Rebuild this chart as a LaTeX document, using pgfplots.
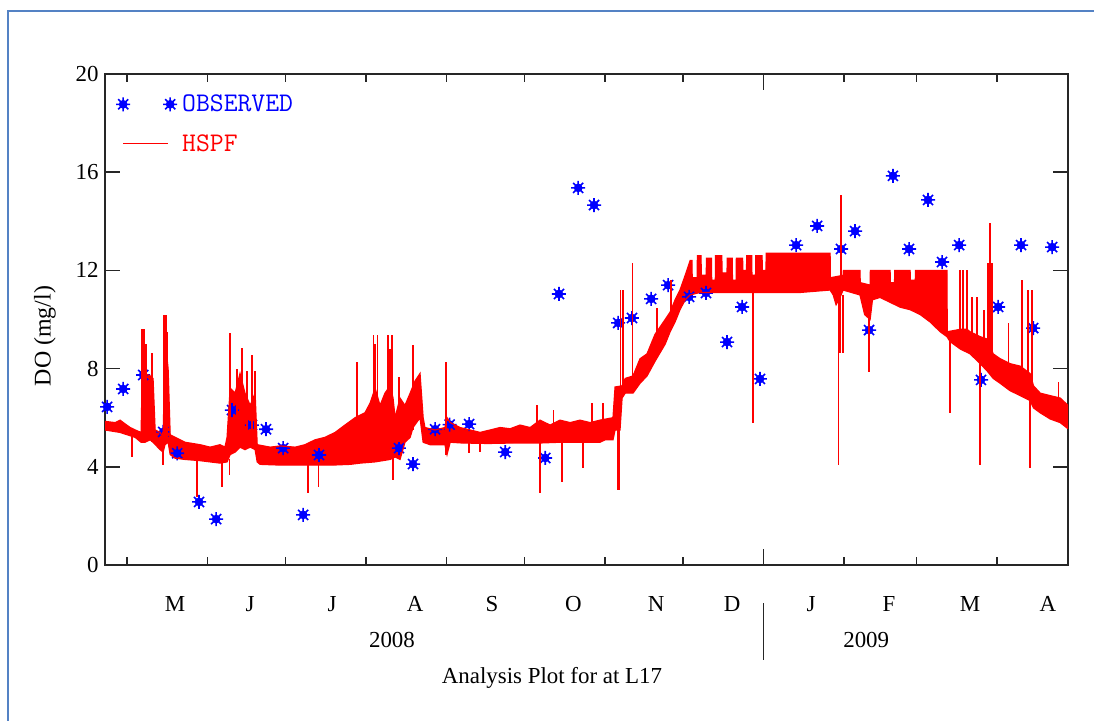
\documentclass[border=0pt]{standalone}
\usepackage{fontspec}
\setmainfont{Liberation Serif}
\usepackage{pgfplots}
\pgfplotsset{compat=1.18}
\usepgfplotslibrary{fillbetween}
\definecolor{frameblue}{RGB}{84,130,196}
\definecolor{hspfred}{RGB}{255,0,0}
\definecolor{obsblue}{RGB}{0,0,255}
\newcommand\tickfont{\fontsize{23}{26}\selectfont}

% 8-ray asterisk with a filled core, like the bitmap star of the original
\pgfdeclareplotmark{obsstar}{%
  \pgfpathcircle{\pgfpointorigin}{0.5\pgfplotmarksize}%
  \pgfusepathqfillstroke
  \pgfpathmoveto{\pgfqpoint{-\pgfplotmarksize}{0pt}}\pgfpathlineto{\pgfqpoint{\pgfplotmarksize}{0pt}}%
  \pgfpathmoveto{\pgfqpoint{0pt}{-\pgfplotmarksize}}\pgfpathlineto{\pgfqpoint{0pt}{\pgfplotmarksize}}%
  \pgfpathmoveto{\pgfqpoint{-0.72\pgfplotmarksize}{-0.72\pgfplotmarksize}}\pgfpathlineto{\pgfqpoint{0.72\pgfplotmarksize}{0.72\pgfplotmarksize}}%
  \pgfpathmoveto{\pgfqpoint{-0.72\pgfplotmarksize}{0.72\pgfplotmarksize}}\pgfpathlineto{\pgfqpoint{0.72\pgfplotmarksize}{-0.72\pgfplotmarksize}}%
  \pgfusepathqstroke
}

\pgfplotsset{
  obs legend/.style={legend image code/.code={\path[draw=none,fill=none] (-8bp,-8bp) rectangle (50bp,8bp);
    \draw[##1] plot[only marks] coordinates {(0bp,0bp) (47bp,0bp)};}},
  hspf legend/.style={legend image code/.code={\path[draw=none,fill=none] (-8bp,-8bp) rectangle (50bp,8bp);
    \draw[##1] (0bp,0bp) -- (45bp,0bp);}},
}

\begin{document}
\begin{tikzpicture}
\begin{axis}[
  scale only axis, width=963bp, height=491bp,
  xmin=112.5, xmax=483.3, ymin=0, ymax=20,
  clip mode=individual,
  axis line style={line width=1.5bp, black!85},
  every tick/.style={black!85, line width=1.5bp},
  tick align=inside,
  major tick length=15bp, minor tick length=8bp,
  ytick={0,4,8,12,16,20},
  xtick={139.5,168.4,199.9,231.9,261.5,292.9,324.7,354.0,384.4,414.4,445.6,475.6},
  xticklabels={M,J,J,A,S,O,N,D,J,F,M,A},
  major x tick style={draw=none},
  minor xtick={121,152,182,213,244,274,305,335,366,397,425,456},
  xticklabel style={font=\tickfont, anchor=base, yshift=-46bp},
  yticklabel style={font=\tickfont, xshift=-3bp},
  /pgf/number format/assume math mode=true,
  unbounded coords=jump,
  legend style={draw=none, fill=none, at={(rel axis cs:0,1)}, anchor=north west,
    xshift=10bp, yshift=-19bp, font=\ttfamily\fontsize{27}{29}\selectfont,
    row sep=17bp, inner sep=0pt,
    /tikz/every odd column/.append style={column sep=3bp}},
  legend cell align=left,
]
% observed DO (mg/l), x = day of year counted from 1 Jan 2008
\addplot[only marks, obsblue, mark=obsstar, mark size=7bp, line width=1.6bp, obs legend]
  coordinates {
  (113.3,6.44) (119.5,7.17) (127.2,7.74) (134.9,5.42) (140.3,4.55)
  (148.7,2.57) (155.3,1.87) (161.4,6.31) (169.1,5.70) (174.5,5.53)
  (181.1,4.76) (188.8,2.04) (194.9,4.48) (225.7,4.76) (231.1,4.11)
  (239.6,5.53) (245.2,5.72) (252.7,5.74) (266.6,4.60) (282.0,4.36)
  (287.3,11.04) (294.7,15.36) (300.8,14.66) (310.1,9.86) (315.4,10.06)
  (322.8,10.84) (329.3,11.40) (337.4,10.92) (343.9,11.08) (352.0,9.08)
  (357.8,10.51) (364.7,7.58) (378.6,13.03) (386.7,13.81) (395.9,12.87)
  (401.3,13.60) (406.7,9.57) (415.9,15.85) (422.1,12.87) (429.4,14.87)
  (434.8,12.34) (441.4,13.03) (449.8,7.54) (456.4,10.51) (465.2,13.03)
  (469.9,9.65) (477.2,12.95)
  };
\addlegendentry{\textcolor{obsblue}{OBSERVED}}

% HSPF simulated DO: lower and upper edge of the daily band
\addplot[hspfred, line width=1.2bp, name path=lo, forget plot] coordinates {
  (112.5,5.5) (118.3,5.4) (124.1,5.2) (126.4,5.0) (127.9,5.0) (129.9,5.1)
  (131.0,5.0) (133.7,4.7) (134.9,4.6) (135.6,4.9) (136.8,5.0) (137.6,4.5)
  (139.5,4.35) (143.3,4.3) (149.1,4.25) (153.0,4.2) (156.8,4.15) (159.5,4.2)
  (160.7,4.5) (162.6,4.6) (164.5,4.8) (166.4,4.7) (168.4,4.8) (170.3,4.7)
  (171.1,4.2) (172.2,4.1) (180,4.07) (190,4.07) (200,4.07) (206.9,4.1)
  (210.7,4.15) (216.5,4.2) (222.3,4.3) (224.2,4.4) (226.1,4.3) (228.0,5.0)
  (230.0,5.2) (231.1,5.6) (233.8,6.0) (235.0,5.0) (237.7,4.9) (243.4,4.9)
  (244.2,4.5) (245.4,5.0) (250,4.97) (260,4.95) (270,4.97) (280,4.97)
  (287.7,5.0) (295,5.0) (303.1,5.0) (305.1,5.1) (308.1,5.1) (308.9,5.5)
  (310.8,5.5) (311.6,6.8) (312.8,7.0) (315.8,7.0) (318.5,7.4) (321.2,7.7)
  (324.3,8.3) (328.2,9.0) (330.1,9.5) (332.0,9.9) (333.9,10.4) (335.9,10.8)
  (337.8,11.0) (341.6,11.1) (360,11.1) (380,11.1) (391.7,11.2) (392.9,11.0)
  (394.0,10.6) (395.5,10.9) (396.7,11.2) (403.2,11.0) (405,10.2) (407.1,10.0)
  (408,10.8) (410.9,10.9) (414.8,10.7) (418.7,10.5) (422.5,10.4) (426.4,10.2)
  (430.2,9.9) (434.1,9.5) (436.7,9.3) (437.9,9.1) (441.8,8.8) (445.6,8.6)
  (449.5,8.2) (452.2,7.9) (454.5,7.6) (457.2,7.4) (461.0,7.1) (464.9,6.9)
  (468.7,6.7) (470,6.4) (472.6,6.2) (476.4,5.95) (480.3,5.8) (483.3,5.55)
  };
\addplot[hspfred, line width=1.2bp, name path=hi, forget plot] coordinates {
  (112.5,5.85) (116.4,5.8) (118.3,5.9) (120.2,5.75) (122.2,5.6) (124.1,5.5)
  (126.4,5.4) (126.8,7.5) (127.9,7.8) (129.9,7.7) (131.0,7.6) (131.8,5.5)
  (133.7,5.4) (134.9,5.2) (135.6,9.2) (136.8,8.0) (137.6,5.3) (139.5,5.2)
  (143.3,5.0) (149.1,4.9) (153.0,4.8) (156.8,4.9) (158.7,4.8) (159.5,5.2)
  (160.7,7.2) (162.6,7.0) (164.5,7.8) (166.4,7.0) (168.4,6.5) (170.3,7.0)
  (171.1,4.9) (176.1,4.8) (180,4.85) (185.7,4.8) (189.5,4.9) (193.4,5.1)
  (197.2,5.2) (201.1,5.4) (204.9,5.7) (208.8,6.0) (212.6,6.2) (214.6,6.6)
  (216.5,7.2) (218.4,6.5) (220.3,7.0) (222.3,7.3) (223.4,6.8) (224.2,6.0)
  (226.1,6.8) (228,6.5) (230.0,7.0) (231.9,7.5) (233.8,7.8) (235.0,6.0)
  (235.7,5.6) (239.6,5.5) (243.4,5.6) (244.2,6.0) (245.4,5.8) (249.2,5.6)
  (253.1,5.5) (256.9,5.4) (260.8,5.5) (264.6,5.6) (268.5,5.55) (272.3,5.7)
  (276.2,5.6) (280.0,5.9) (283.9,5.7) (287.7,5.9) (291.6,5.8) (295.4,5.9)
  (299.3,5.8) (303.1,5.9) (308.1,6.0) (308.9,7.25) (311.6,7.3) (312.8,7.6)
  (315.8,7.7) (318.5,8.4) (321.2,8.6) (324.3,9.4) (328.2,10.0) (330.1,10.3)
  (332.0,10.8) (333.9,11.2) (335.9,11.8) (337.8,12.4) (338.5,12.4) (338.6,11.7)
  (340.5,11.7) (340.6,12.6) (342,12.6) (342.1,11.8) (344,11.8) (344.1,12.5)
  (346,12.5) (346.1,11.6) (347.5,11.6) (347.6,12.6) (350,12.6) (350.1,11.9)
  (352,11.9) (352.1,12.5) (354,12.5) (354.1,11.6) (355.5,11.6) (355.6,12.5)
  (358,12.5) (358.1,12.0) (359.5,12.0) (359.6,12.6) (361.5,12.6) (361.6,11.8)
  (363,11.8) (363.1,12.6) (365.5,12.6) (365.6,12.0) (367,12.0) (367.1,12.7)
  (391.7,12.7) (391.8,11.7) (396.7,11.8) (396.8,12.0) (403.2,12.0) (403.3,11.5)
  (407.1,11.4) (407.2,12.0) (414.8,12.0) (414.9,11.5) (416.5,11.5) (416.6,12.0)
  (422.5,12.0) (422.6,11.6) (424.5,11.6) (424.6,12.0) (436.7,12.0) (436.8,9.5)
  (441.8,9.6) (444.4,9.6) (445.6,9.5) (449.5,9.3) (452.2,9.2) (454.5,8.6)
  (457.2,8.4) (461.0,8.2) (464.9,8.1) (468.7,7.8) (470,7.3) (472.6,7.0)
  (476.4,6.9) (480.3,6.8) (483.3,6.5)
  };
\addplot[hspfred, forget plot] fill between[of=lo and hi];

% HSPF short-lived excursions
\addplot[hspfred, line width=1.8bp, hspf legend]
  coordinates {
  (122.9,5.5) (122.9,4.41) (122.9,nan)
  (126.7,5.0) (126.7,9.6) (126.7,nan)
  (127.5,5.0) (127.5,9.6) (127.5,nan)
  (128.3,5.0) (128.3,9.0) (128.3,nan)
  (130.6,5.0) (130.6,8.63) (130.6,nan)
  (134.9,5.4) (134.9,4.07) (134.9,nan)
  (135.2,5.0) (135.2,10.18) (135.2,nan)
  (135.9,5.0) (135.9,10.18) (135.9,nan)
  (136.5,5.0) (136.5,9.5) (136.5,nan)
  (147.9,4.3) (147.9,2.77) (147.9,nan)
  (157.5,4.2) (157.5,3.18) (157.5,nan)
  (160.4,4.3) (160.4,3.67) (160.4,nan)
  (160.7,5.0) (160.7,9.45) (160.7,nan)
  (163.2,5.0) (163.2,8.0) (163.2,nan)
  (165.2,5.0) (165.2,8.84) (165.2,nan)
  (167.1,5.0) (167.1,7.9) (167.1,nan)
  (169.0,5.0) (169.0,8.55) (169.0,nan)
  (170.3,5.0) (170.3,7.9) (170.3,nan)
  (190.8,4.2) (190.8,2.93) (190.8,nan)
  (194.7,4.2) (194.7,3.18) (194.7,nan)
  (209.4,5.0) (209.4,8.27) (209.4,nan)
  (215.9,5.0) (215.9,9.37) (215.9,nan)
  (216.6,5.0) (216.6,9.0) (216.6,nan)
  (217.4,5.0) (217.4,9.37) (217.4,nan)
  (221.6,5.0) (221.6,9.37) (221.6,nan)
  (222.3,5.0) (222.3,8.8) (222.3,nan)
  (223.0,5.0) (223.0,9.37) (223.0,nan)
  (223.5,4.5) (223.5,3.46) (223.5,nan)
  (225.8,5.0) (225.8,7.66) (225.8,nan)
  (231.2,5.5) (231.2,8.96) (231.2,nan)
  (243.8,4.48) (243.8,8.27) (243.8,nan)
  (252.8,5.0) (252.8,4.56) (252.8,nan)
  (256.9,5.0) (256.9,4.6) (256.9,nan)
  (278.8,5.2) (278.8,6.52) (278.8,nan)
  (280.0,5.0) (280.0,2.93) (280.0,nan)
  (285.2,5.2) (285.2,6.3) (285.2,nan)
  (288.4,5.0) (288.4,3.38) (288.4,nan)
  (296.7,5.0) (296.7,3.96) (296.7,nan)
  (299.9,5.5) (299.9,6.6) (299.9,nan)
  (304.4,5.5) (304.4,6.6) (304.4,nan)
  (309.8,5.5) (309.8,3.05) (309.8,nan)
  (310.5,5.5) (310.5,3.05) (310.5,nan)
  (311.0,7.0) (311.0,11.2) (311.0,nan)
  (311.8,7.0) (311.8,11.2) (311.8,nan)
  (315.6,7.3) (315.6,12.3) (315.6,nan)
  (325.0,8.8) (325.0,10.47) (325.0,nan)
  (330.4,9.8) (330.4,11.6) (330.4,nan)
  (361.9,11.1) (361.9,5.78) (361.9,nan)
  (394.9,11.0) (394.9,4.07) (394.9,nan)
  (395.4,11.0) (395.4,8.63) (395.4,nan)
  (396.0,11.5) (396.0,15.07) (396.0,nan)
  (396.6,11.0) (396.6,8.63) (396.6,nan)
  (406.8,10.5) (406.8,7.86) (406.8,nan)
  (437.9,9.2) (437.9,6.19) (437.9,nan)
  (441.8,9.5) (441.8,12.0) (441.8,nan)
  (443.0,9.5) (443.0,12.0) (443.0,nan)
  (444.4,9.5) (444.4,12.0) (444.4,nan)
  (446.3,9.0) (446.3,10.9) (446.3,nan)
  (448.2,9.0) (448.2,10.9) (448.2,nan)
  (449.5,8.5) (449.5,4.07) (449.5,nan)
  (450.8,8.5) (450.8,10.4) (450.8,nan)
  (452.6,8.0) (452.6,12.3) (452.6,nan)
  (453.3,8.0) (453.3,13.93) (453.3,nan)
  (454.1,8.0) (454.1,12.3) (454.1,nan)
  (460.4,7.2) (460.4,9.86) (460.4,nan)
  (465.5,7.0) (465.5,11.6) (465.5,nan)
  (468.0,7.0) (468.0,11.2) (468.0,nan)
  (468.7,7.0) (468.7,3.96) (468.7,nan)
  (469.5,7.0) (469.5,11.2) (469.5,nan)
  (479.6,6.0) (479.6,7.45)
  };
\addlegendentry{\textcolor{hspfred}{HSPF}}

% year break at 1 Jan 2009
\draw[black!85, line width=1.5bp] (axis cs:366,0) -- ([yshift=16bp]axis cs:366,0);
\draw[black!85, line width=1.5bp] (axis cs:366,20) -- ([yshift=-16bp]axis cs:366,20);
\draw[black!85, line width=1.5bp] ([yshift=-38bp]axis cs:366,0) -- ([yshift=-95bp]axis cs:366,0);
\node[font=\tickfont, anchor=base] at ([yshift=-82bp]axis cs:223.0,0) {2008};
\node[font=\tickfont, anchor=base] at ([yshift=-82bp]axis cs:405.6,0) {2009};
\node[font=\tickfont, anchor=base] at ([yshift=-118bp]axis cs:284.6,0) {Analysis Plot for at L17};
\node[font=\fontsize{24}{26}\selectfont, rotate=90, anchor=center] at ([xshift=-60bp]axis cs:112.5,9.33) {DO (mg/l)};
\end{axis}
\draw[frameblue, line width=2bp] (-97bp,-156bp) -- (-97bp,554bp) -- (989bp,554bp);
\pgfresetboundingbox
\path (-105bp,-156bp) rectangle (989bp,565bp);
\end{tikzpicture}
\end{document}
